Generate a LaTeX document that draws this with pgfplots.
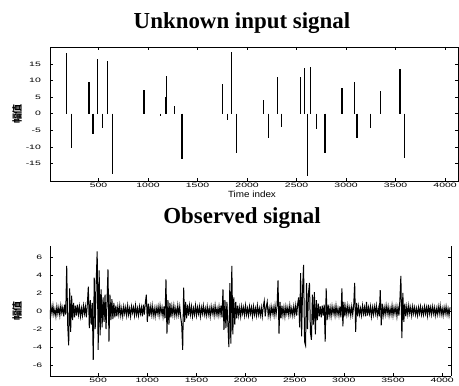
\documentclass[border=0pt]{standalone}
\usepackage{fontspec}
\setmainfont{Liberation Serif}
\newfontfamily\sansf{Liberation Sans}
\newfontfamily\cjk{Noto Sans CJK SC}
\usepackage{pgfplots}
\pgfplotsset{compat=1.18}
\pgfplotsset{
  common/.style={
    scale only axis,
    axis line style={line width=0.9bp},
    tick style={black, line width=0.6bp},
    major tick length=3bp,
    /pgf/number format/assume math mode=true,
    /pgf/number format/1000 sep={},
    tick label style={font=\sansf\fontsize{7.5}{7.5}\selectfont, xscale=1.4, yscale=0.85},
    xtick={500,1000,...,4000},
  }
}
\begin{document}
\begin{tikzpicture}
\path[use as bounding box] (0,0) rectangle (459bp,-386bp);
% titles
\node[anchor=base, font=\bfseries\fontsize{23}{23}\selectfont] at (242bp,-28bp) {Unknown input signal};
\node[anchor=base, font=\bfseries\fontsize{23}{23}\selectfont] at (242bp,-223bp) {Observed signal};
% y labels
\node[rotate=90, font=\cjk\bfseries\fontsize{10}{10}\selectfont] at (17bp,-114bp) {幅值};
\node[rotate=90, font=\cjk\bfseries\fontsize{10}{10}\selectfont] at (17bp,-311bp) {幅值};
% x label
\node[font=\sansf\fontsize{9}{9}\selectfont, xscale=1.1] at (252bp,-194bp) {Time index};

\begin{axis}[common,
  at={(50bp,-181bp)}, anchor=south west,
  width=408bp, height=134bp,
  xmin=10, xmax=4130, ymin=-20.3, ymax=20.1,
  ytick={-15,-10,...,15},
  xticklabel style={yshift=1.5bp},
  yticklabel style={xshift=-3bp},
]
\addplot[ycomb, black, line width=1.3bp, mark=none] coordinates {
(177,18.3)(227,-10.5)(403,9.4)(443,-6.2)(490,16.5)(537,-4.4)(593,15.8)(640,-18.3)
(960,7.1)(1127,-0.6)(1175,5.0)(1183,11.4)(1270,2.4)(1343,-13.8)(1753,8.8)(1800,-1.8)
(1843,18.7)(1893,-11.8)(2167,4.0)(2217,-7.4)(2310,11.1)(2350,-4.1)(2537,11.1)(2577,13.7)
(2610,-18.9)(2637,14.2)(2700,-4.7)(2787,-11.8)(2960,7.8)(3083,9.6)(3110,-7.2)(3243,-4.4)
(3350,6.8)(3543,13.6)(3593,-13.5)
};
\end{axis}

\begin{axis}[common,
  at={(50bp,-376bp)}, anchor=south west,
  width=401bp, height=130bp,
  xmin=10, xmax=4090, ymin=-7.2, ymax=7.2,
  ytick={-6,-4,...,6},
  axis x line*=bottom, axis y line*=box,
  xticklabel style={yshift=1.5bp},
  yticklabel style={xshift=-2bp},
]
\addplot[black, line width=1bp, mark=none] coordinates {
(0,0.3)(10,-0.5)(20,0.5)(30,-0.3)(40,0.6)(50,-0.4)(60,0.2)(70,-0.6)(80,0.5)(90,-0.3)
(100,0.4)(110,-0.5)(120,0.6)(130,-0.2)(140,0.4)(150,-0.6)(160,0.7)(170,-0.4)(180,5.0)(190,-1.5)
(200,-3.8)(210,2.5)(220,-2.3)(230,1.7)(240,-1.0)(250,0.9)(260,-0.7)(270,0.6)(280,-0.5)(290,0.7)
(300,-0.4)(310,0.5)(320,-0.6)(330,0.3)(340,-0.5)(350,0.6)(360,-0.3)(370,0.5)(380,-0.7)(390,0.8)
(400,2.7)(410,-1.9)(420,1.2)(430,-1.5)(440,0.9)(450,-5.4)(460,3.7)(470,-2.0)(480,3.2)(490,6.6)
(500,-4.3)(510,4.5)(520,-2.7)(530,2.4)(540,-1.8)(550,1.5)(560,-1.2)(570,1.8)(580,-2.0)(590,1.0)
(600,4.6)(610,-3.4)(620,1.8)(630,-1.0)(640,1.3)(650,-0.9)(660,0.9)(670,-0.7)(680,0.6)(690,-0.6)
(700,0.5)(710,-0.4)(720,0.6)(730,-0.5)(740,0.3)(750,-0.6)(760,0.5)(770,-0.3)(780,0.4)(790,-0.5)
(800,0.6)(810,-0.4)(820,0.3)(830,-0.6)(840,0.5)(850,-0.2)(860,0.4)(870,-0.5)(880,0.6)(890,-0.4)
(900,0.3)(910,-0.5)(920,0.5)(930,-0.3)(940,0.4)(950,-0.6)(960,0.7)(970,-0.4)(980,0.9)(990,1.8)
(1000,-1.2)(1010,0.8)(1020,-0.6)(1030,0.5)(1040,-0.4)(1050,0.6)(1060,-0.5)(1070,0.3)(1080,-0.6)(1090,0.4)
(1100,-0.3)(1110,0.5)(1120,-0.5)(1130,0.6)(1140,-0.3)(1150,0.4)(1160,-0.6)(1170,0.5)(1180,-0.8)(1190,3.5)
(1200,-2.5)(1210,1.2)(1220,-1.5)(1230,0.9)(1240,-0.7)(1250,0.5)(1260,-0.4)(1270,0.6)(1280,-0.5)(1290,0.3)
(1300,-0.5)(1310,0.6)(1320,-0.4)(1330,0.5)(1340,-0.7)(1350,-1.5)(1360,-4.3)(1370,2.6)(1380,-1.2)(1390,1.0)
(1400,-0.8)(1410,0.7)(1420,-0.5)(1430,0.6)(1440,-0.4)(1450,0.5)(1460,-0.6)(1470,0.3)(1480,-0.4)(1490,0.6)
(1500,-0.5)(1510,0.4)(1520,-0.3)(1530,0.5)(1540,-0.6)(1550,0.4)(1560,-0.3)(1570,0.6)(1580,-0.4)(1590,0.3)
(1600,-0.5)(1610,0.5)(1620,-0.4)(1630,0.3)(1640,-0.6)(1650,0.5)(1660,-0.3)(1670,0.4)(1680,-0.5)(1690,0.6)
(1700,-0.4)(1710,0.3)(1720,-0.5)(1730,0.5)(1740,-0.4)(1750,0.6)(1760,-0.7)(1770,2.4)(1780,-2.1)(1790,1.2)
(1800,-1.9)(1810,1.0)(1820,-1.5)(1830,-4.0)(1840,3.1)(1850,-3.6)(1860,5.0)(1870,-2.6)(1880,1.5)(1890,-1.5)
(1900,1.0)(1910,-0.8)(1920,0.6)(1930,-0.5)(1940,0.4)(1950,-0.6)(1960,0.5)(1970,-0.3)(1980,0.4)(1990,-0.5)
(2000,0.6)(2010,-0.4)(2020,0.3)(2030,-0.5)(2040,0.5)(2050,-0.3)(2060,0.4)(2070,-0.6)(2080,0.5)(2090,-0.4)
(2100,0.3)(2110,-0.5)(2120,0.6)(2130,-0.4)(2140,0.3)(2150,-0.5)(2160,0.4)(2170,-0.6)(2180,0.5)(2190,1.1)
(2200,-0.6)(2210,0.4)(2220,1.0)(2230,-0.5)(2240,0.3)(2250,-0.6)(2260,0.5)(2270,-0.3)(2280,0.4)(2290,-0.5)
(2300,0.6)(2310,-0.4)(2320,0.5)(2330,3.4)(2340,-2.5)(2350,1.0)(2360,-0.8)(2370,0.6)(2380,-0.5)(2390,0.4)
(2400,-0.6)(2410,0.5)(2420,-0.3)(2430,0.4)(2440,-0.5)(2450,0.6)(2460,-0.4)(2470,0.3)(2480,-0.5)(2490,0.5)
(2500,-0.4)(2510,0.6)(2520,-0.5)(2530,0.8)(2540,1.5)(2550,-1.8)(2560,4.2)(2570,-2.8)(2580,2.5)(2590,5.1)
(2600,-3.4)(2610,-3.8)(2620,3.1)(2630,-2.0)(2640,2.0)(2650,3.1)(2660,-2.4)(2670,-3.2)(2680,1.8)(2690,-1.5)
(2700,2.1)(2710,-2.6)(2720,1.2)(2730,-1.0)(2740,0.8)(2750,-0.6)(2760,0.5)(2770,-0.7)(2780,0.6)(2790,-0.5)
(2800,0.7)(2810,-3.4)(2820,2.5)(2830,-1.0)(2840,0.7)(2850,-0.5)(2860,0.4)(2870,-0.6)(2880,0.5)(2890,-0.3)
(2900,0.4)(2910,-0.5)(2920,0.6)(2930,-0.4)(2940,0.3)(2950,-0.5)(2960,0.5)(2970,-0.7)(2980,2.5)(2990,-1.7)
(3000,1.0)(3010,-0.6)(3020,0.5)(3030,-0.4)(3040,0.6)(3050,-0.3)(3060,0.4)(3070,-0.5)(3080,0.5)(3090,-0.4)
(3100,0.6)(3110,3.1)(3120,-2.3)(3130,0.9)(3140,-0.6)(3150,0.5)(3160,-0.4)(3170,0.3)(3180,-0.5)(3190,0.6)
(3200,-0.3)(3210,0.4)(3220,-0.6)(3230,1.0)(3240,-0.5)(3250,0.4)(3260,-0.3)(3270,0.5)(3280,-0.6)(3290,0.4)
(3300,-0.4)(3310,0.5)(3320,-0.3)(3330,0.6)(3340,-0.5)(3350,0.3)(3360,-0.6)(3370,2.3)(3380,-1.6)(3390,0.8)
(3400,-0.5)(3410,0.4)(3420,-0.4)(3430,0.6)(3440,-0.3)(3450,0.5)(3460,-0.5)(3470,0.3)(3480,-0.4)(3490,0.6)
(3500,-0.5)(3510,0.4)(3520,-0.3)(3530,0.5)(3540,-0.6)(3550,0.4)(3560,-0.5)(3570,1.2)(3580,3.9)(3590,-3.0)
(3600,2.0)(3610,-1.2)(3620,0.8)(3630,-0.6)(3640,0.5)(3650,-0.4)(3660,0.6)(3670,-0.3)(3680,0.4)(3690,-0.5)
(3700,0.5)(3710,-0.3)(3720,0.4)(3730,-0.4)(3740,0.3)(3750,-0.5)(3760,0.4)(3770,-0.3)(3780,0.5)(3790,-0.4)
(3800,0.3)(3810,-0.4)(3820,0.5)(3830,-0.3)(3840,0.4)(3850,-0.5)(3860,0.7)(3870,-0.3)(3880,0.4)(3890,-0.4)
(3900,0.5)(3910,-0.3)(3920,0.4)(3930,-0.5)(3940,0.3)(3950,-0.4)(3960,0.5)(3970,-0.3)(3980,0.6)(3990,-0.4)
(4000,0.3)(4010,-0.5)(4020,0.4)(4030,-0.3)(4040,0.5)(4050,-0.4)(4060,0.3)(4070,-0.5)(4080,0.4)
};
\end{axis}
\end{tikzpicture}
\end{document}
